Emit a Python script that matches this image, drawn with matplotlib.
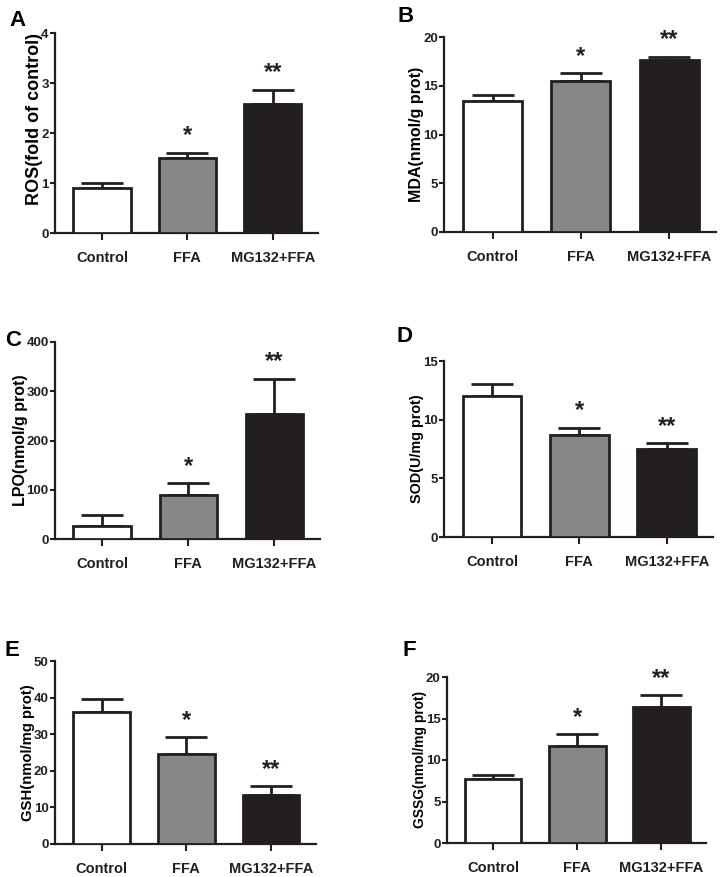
import matplotlib
matplotlib.use('Agg')
import matplotlib.pyplot as plt
import numpy as np

plt.rcParams['font.family'] = ['Liberation Sans', 'DejaVu Sans']
plt.rcParams['font.weight'] = 'bold'

# data
groups = ['Control', 'FFA', 'MG132+FFA']
colors = ['white', '#878787', '#231f1e']

ros = [0.9, 1.5, 2.58]
ros_err = [0.1, 0.1, 0.29]
mda = [13.4, 15.5, 17.6]
mda_err = [0.7, 0.8, 0.4]
lpo = [27, 89, 253]
lpo_err = [22, 24, 72]
sod = [12.0, 8.7, 7.5]
sod_err = [1.0, 0.6, 0.5]
gsh = [36.0, 24.6, 13.4]
gsh_err = [3.6, 4.6, 2.4]
gssg = [7.7, 11.7, 16.4]
gssg_err = [0.5, 1.4, 1.4]

stars = ['', '*', '**']

W, H = 722, 877
fig = plt.figure(figsize=(W / 100, H / 100), dpi=100)


def rect(l, t, r, b):
    return [l / W, 1 - b / H, (r - l) / W, (b - t) / H]


# letter, rect(px), values, errors, ylabel, ymax, step, letter position(px), ylabel size, ylabel y
panels = [
    ('A', (55, 33, 318, 233), ros, ros_err, 'ROS(fold of control)', 4, 1, (9, 20), 13.0, 0.57),
    ('B', (444, 37, 716, 232), mda, mda_err, 'MDA(nmol/g prot)', 20, 5, (398, 17), 11.5, 0.5),
    ('C', (55, 342, 320, 539), lpo, lpo_err, 'LPO(nmol/g prot)', 400, 100, (5, 340), 11.5, 0.5),
    ('D', (444, 361, 713, 537), sod, sod_err, 'SOD(U/mg prot)', 15, 5, (397, 337), 10.4, 0.5),
    ('E', (55, 661, 316, 844), gsh, gsh_err, 'GSH(nmol/mg prot)', 50, 10, (5, 650), 10.7, 0.5),
    ('F', (447, 677, 706, 843), gssg, gssg_err, 'GSSG(nmol/mg prot)', 20, 5, (402, 651), 9.9, 0.5),
]

x = np.arange(len(groups))
for letter, r, vals, errs, ylab, ymax, step, lpos, ysize, ylab_y in panels:
    ax = fig.add_axes(rect(*r))
    ax.bar(x, vals, width=0.67, color=colors, edgecolor='#231f1e', linewidth=2.0, zorder=3)
    ax.errorbar(x, vals, yerr=[np.zeros(len(vals)), errs], fmt='none', ecolor='#231f1e',
                elinewidth=2.0, capsize=15, capthick=2.0, zorder=2)
    for xi, v, e, s in zip(x, vals, errs, stars):
        if s:
            ax.annotate(s, (xi, v + e), xytext=(0, 4), textcoords='offset points',
                        ha='center', va='bottom', fontsize=17, fontweight='bold', color='#231f1e')
    ax.set_xlim(-0.55, 2.53)
    ax.set_ylim(0, ymax)
    ax.set_yticks(np.arange(0, ymax + step / 2, step))
    ax.set_xticks(x)
    ax.set_xticklabels(groups, fontsize=10.5, fontweight='bold')
    for lab in ax.get_yticklabels():
        lab.set_fontsize(9.5)
        lab.set_fontweight('bold')
    ax.set_ylabel(ylab, fontsize=ysize, fontweight='bold', labelpad=-1)
    ax.yaxis.label.set_y(ylab_y)
    for sp in ['top', 'right']:
        ax.spines[sp].set_visible(False)
    for sp in ['left', 'bottom']:
        ax.spines[sp].set_linewidth(1.6)
        ax.spines[sp].set_color('#231f1e')
    ax.tick_params(axis='y', length=3.5, width=1.5, pad=1, colors='#231f1e')
    ax.tick_params(axis='x', length=5, width=1.5, pad=8, colors='#231f1e')
    fig.text(lpos[0] / W, 1 - lpos[1] / H, letter, fontsize=16, fontweight='bold',
             ha='left', va='center', color='black')

fig.savefig('out.png', dpi=100)
